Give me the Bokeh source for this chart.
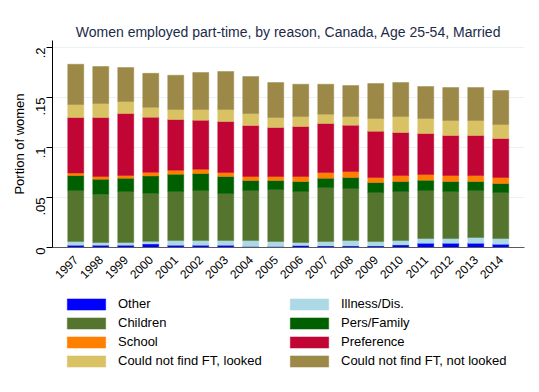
import math
from bokeh.plotting import figure
from bokeh.layouts import column
from bokeh.models import ColumnDataSource, Range1d, FixedTicker, Legend, LegendItem
from bokeh.embed import file_html
from bokeh.resources import INLINE

years = [1997, 1998, 1999, 2000, 2001, 2002, 2003, 2004, 2005,
         2006, 2007, 2008, 2009, 2010, 2011, 2012, 2013, 2014]

other = [.0023, .0023, .0023, .0035, .0023, .0023, .0023, .0010, .0010,
         .0020, .0016, .0016, .0016, .0026, .0043, .0043, .0043, .0033]
illness = [.0037, .0027, .0027, .0027, .0047, .0047, .0047, .0060, .0050,
           .0030, .0044, .0054, .0044, .0044, .0047, .0047, .0057, .0057]
children = [.051, .0483, .051, .048, .049, .050, .047, .050, .052,
            .051, .054, .052, .049, .049, .048, .047, .047, .046]
pers_family = [.015, .015, .0133, .0173, .0173, .017, .017, .010, .009,
               .010, .0093, .011, .010, .010, .0103, .010, .009, .009]
school = [.0026, .0027, .0027, .0037, .004, .0043, .004, .004, .004,
          .005, .0057, .006, .005, .006, .0057, .006, .006, .006]
preference = [.0554, .059, .062, .055, .0507, .049, .051, .051, .049,
              .050, .049, .0463, .0463, .043, .041, .040, .040, .039]
looked = [.013, .014, .012, .010, .010, .0107, .012, .012, .010,
          .010, .0093, .0087, .0127, .016, .015, .015, .015, .014]
not_looked = [.0403, .037, .034, .034, .0343, .037, .038, .037, .035,
              .0323, .030, .031, .035, .034, .032, .033, .033, .034]

series_keys = ["other", "illness", "children", "pers_family", "school",
               "preference", "looked", "not_looked"]
series_labels = ["Other", "Illness/Dis.", "Children", "Pers/Family", "School",
                 "Preference", "Could not find FT, looked", "Could not find FT, not looked"]
colors = ["#0000ff", "#add8e6", "#55752f", "#006000", "#ff7f00",
          "#c10534", "#d8c263", "#9c8847"]

y_ticks = [0, 0.05, 0.1, 0.15, 0.2]
y_tick_labels = ["0", ".05", ".1", ".15", ".2"]

source = ColumnDataSource(dict(
    years=years, other=other, illness=illness, children=children,
    pers_family=pers_family, school=school, preference=preference,
    looked=looked, not_looked=not_looked))

FONT = "Liberation Sans"

# ---------------- main chart ----------------
p = figure(width=539, height=288, output_backend="svg", toolbar_location=None,
           x_range=Range1d(1996.07, 2014.95), y_range=Range1d(0, 0.207),
           title="Women employed part-time, by reason, Canada, Age 25-54, Married")

p.vbar_stack(series_keys, x="years", width=0.64, source=source,
             fill_color=colors, line_color=colors, line_alpha=0.45, line_width=1)

p.title.align = "center"
p.title.text_font = FONT
p.title.text_font_size = "14px"
p.title.text_font_style = "normal"
p.title.text_color = "#1c2a48"
p.title.standoff = 2

p.background_fill_color = "white"
p.border_fill_color = "white"
p.outline_line_color = None

p.xgrid.grid_line_color = None
p.ygrid.grid_line_color = "#eaf2f3"
p.ygrid.grid_line_width = 1

p.yaxis.ticker = FixedTicker(ticks=y_ticks)
p.yaxis.major_label_overrides = {t: l for t, l in zip(y_ticks, y_tick_labels)}
p.yaxis.major_label_orientation = math.pi / 2
p.yaxis.axis_label = "Portion of women"
p.yaxis.axis_label_text_font = FONT
p.yaxis.axis_label_text_font_size = "13px"
p.yaxis.axis_label_text_font_style = "normal"
p.yaxis.axis_label_text_color = "black"
p.yaxis.axis_label_standoff = 2
p.yaxis.major_label_standoff = 6
p.yaxis.major_label_text_font = FONT
p.yaxis.major_label_text_font_size = "13px"
p.yaxis.major_label_text_color = "black"
p.yaxis.axis_line_color = "black"
p.yaxis.major_tick_line_color = "black"
p.yaxis.major_tick_out = 6
p.yaxis.major_tick_in = 0
p.yaxis.minor_tick_line_color = None

p.xaxis.ticker = FixedTicker(ticks=years)
p.xaxis.major_label_orientation = math.pi / 4
p.xaxis.major_label_text_font = FONT
p.xaxis.major_label_text_font_size = "12px"
p.xaxis.major_label_text_color = "black"
p.xaxis.axis_line_color = "#5a5a5a"
p.xaxis.major_tick_line_color = None
p.xaxis.minor_tick_line_color = None
p.xaxis.major_label_standoff = 4

p.min_border_left = 52
p.min_border_right = 15
p.min_border_top = 40
p.min_border_bottom = 41

# ---------------- legend panel ----------------
lg = figure(width=539, height=104, output_backend="svg", toolbar_location=None,
            x_range=Range1d(1996.07, 2014.95), y_range=Range1d(1, 2))
lg_renderers = lg.vbar_stack(series_keys, x="years", width=0.64, source=source,
                             fill_color=colors, line_color=colors, line_alpha=0.45,
                             line_width=1)
lg.axis.visible = False
lg.grid.visible = False
lg.outline_line_color = None
lg.background_fill_color = "white"
lg.border_fill_color = "white"
lg.min_border_left = 52
lg.min_border_right = 15
lg.min_border_top = 0
lg.min_border_bottom = 0

items = [LegendItem(label=lab, renderers=[r]) for lab, r in zip(series_labels, lg_renderers)]
legend = Legend(items=items, orientation="horizontal", ncols=2,
                location=(10, 24), margin=0, padding=0, spacing=4,
                glyph_width=48, glyph_height=14, label_height=14,
                label_width=163, label_standoff=8,
                label_text_font=FONT, label_text_font_size="13px",
                label_text_color="black",
                border_line_color=None, background_fill_alpha=0)
lg.add_layout(legend, "center")

layout = column(p, lg, spacing=0)

open("out.html", "w").write(file_html(layout, INLINE))
